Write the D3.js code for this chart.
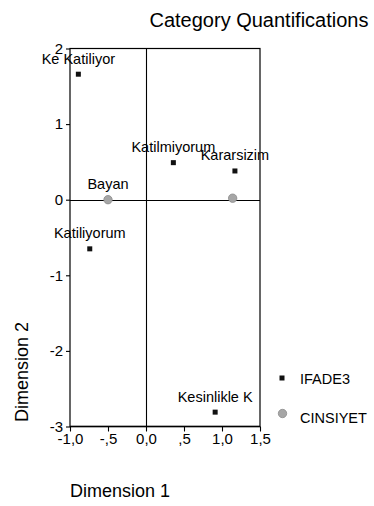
<!DOCTYPE html>
<html>
<head>
<meta charset="utf-8">
<script src="https://cdn.jsdelivr.net/npm/d3@7"></script>
<style>
  html, body { margin: 0; padding: 0; background: #fff; }
  svg { display: block; font-family: Arial, "Liberation Sans", Helvetica, sans-serif; }
</style>
</head>
<body>
<svg id="chart" width="374" height="506"></svg>
<script>
// IFADE3 category points
const ifadeLabels = ["Ke Katiliyor", "Katilmiyorum", "Kararsizim", "Katiliyorum", "Kesinlikle K"];
const ifadeDim1 = [-0.89, 0.36, 1.17, -0.74, 0.91];
const ifadeDim2 = [1.66, 0.49, 0.38, -0.65, -2.81];

// CINSIYET category points
const cinsLabels = ["Bayan", ""];
const cinsDim1 = [-0.50, 1.14];
const cinsDim2 = [0.00, 0.02];

const xTicks = [-1.0, -0.5, 0.0, 0.5, 1.0, 1.5];
const xTickLabels = ["-1,0", "-,5", "0,0", ",5", "1,0", "1,5"];
const yTicks = [-3, -2, -1, 0, 1, 2];
const yTickLabels = ["-3", "-2", "-1", "0", "1", "2"];

const legendNames = ["IFADE3", "CINSIYET"];

const svg = d3.select("#chart");
const plotLeft = 70, plotRight = 260, plotTop = 48.5, plotBottom = 426.5;

const x = d3.scaleLinear().domain([-1, 1.5]).range([plotLeft, plotRight]);
const y = d3.scaleLinear().domain([-3, 2]).range([plotBottom, plotTop]);

// title
svg.append("text")
  .attr("x", 259).attr("y", 27)
  .attr("text-anchor", "middle")
  .attr("font-size", 20)
  .text("Category Quantifications");

// frame
svg.append("rect")
  .attr("x", plotLeft).attr("y", plotTop)
  .attr("width", plotRight - plotLeft).attr("height", plotBottom - plotTop)
  .attr("fill", "none").attr("stroke", "#000").attr("stroke-width", 1.2);
// heavier baseline along the x axis
svg.append("line")
  .attr("x1", plotLeft).attr("x2", plotRight)
  .attr("y1", plotBottom).attr("y2", plotBottom)
  .attr("stroke", "#000").attr("stroke-width", 1.7);

// reference lines through the origin
svg.append("line")
  .attr("x1", Math.round(x(0)) + 0.5).attr("x2", Math.round(x(0)) + 0.5)
  .attr("y1", plotTop).attr("y2", plotBottom)
  .attr("stroke", "#000").attr("stroke-width", 1.1);
svg.append("line")
  .attr("x1", plotLeft).attr("x2", plotRight)
  .attr("y1", Math.round(y(0)) + 0.5).attr("y2", Math.round(y(0)) + 0.5)
  .attr("stroke", "#000").attr("stroke-width", 1.1);

// axes
const xAxis = d3.axisBottom(x)
  .tickValues(xTicks)
  .tickFormat((d, i) => xTickLabels[i])
  .tickSize(5).tickSizeOuter(0).tickPadding(2);
const gx = svg.append("g")
  .attr("transform", `translate(0,${plotBottom})`)
  .call(xAxis);

const yAxis = d3.axisLeft(y)
  .tickValues(yTicks)
  .tickFormat((d, i) => yTickLabels[i])
  .tickSize(4).tickSizeOuter(0).tickPadding(3);
const gy = svg.append("g")
  .attr("transform", `translate(${plotLeft},0)`)
  .call(yAxis);

[gx, gy].forEach(g => {
  g.select(".domain").remove();
  g.selectAll(".tick line").attr("stroke", "#000").attr("stroke-width", 1.1);
  g.selectAll(".tick text")
    .attr("fill", "#000")
    .attr("font-size", 15)
    .attr("font-family", "Arial, 'Liberation Sans', sans-serif");
});

// axis titles
svg.append("text")
  .attr("x", 70).attr("y", 497)
  .attr("font-size", 18)
  .text("Dimension 1");
svg.append("text")
  .attr("transform", "translate(28,372) rotate(-90)")
  .attr("text-anchor", "middle")
  .attr("font-size", 18)
  .text("Dimension 2");

// CINSIYET points (grey discs)
const cins = cinsLabels.map((l, i) => ({ label: l, d1: cinsDim1[i], d2: cinsDim2[i] }));
svg.append("g").selectAll("circle").data(cins).join("circle")
  .attr("cx", d => x(d.d1)).attr("cy", d => y(d.d2))
  .attr("r", 4.2)
  .attr("fill", "#a6a6a6").attr("stroke", "#8c8c8c").attr("stroke-width", 0.8);

// IFADE3 points (black squares)
const ifade = ifadeLabels.map((l, i) => ({ label: l, d1: ifadeDim1[i], d2: ifadeDim2[i] }));
svg.append("g").selectAll("rect").data(ifade).join("rect")
  .attr("x", d => x(d.d1) - 2.5).attr("y", d => y(d.d2) - 2.5)
  .attr("width", 5).attr("height", 5)
  .attr("fill", "#111");

// point labels
const labelled = ifade.concat(cins).filter(d => d.label);
svg.append("g").selectAll("text").data(labelled).join("text")
  .attr("x", d => x(d.d1)).attr("y", d => y(d.d2) - 10.5)
  .attr("text-anchor", "middle")
  .attr("font-size", 14.5)
  .text(d => d.label);

// legend
const lg = svg.append("g");
lg.append("rect").attr("x", 279.5).attr("y", 375.5).attr("width", 5).attr("height", 5).attr("fill", "#111");
lg.append("circle").attr("cx", 282.5).attr("cy", 413.5).attr("r", 4.2)
  .attr("fill", "#a6a6a6").attr("stroke", "#8c8c8c").attr("stroke-width", 0.8);
legendNames.forEach((n, i) => {
  lg.append("text")
    .attr("x", 300).attr("y", 384 + i * 39)
    .attr("font-size", 14.5)
    .text(n);
});
</script>
</body>
</html>
